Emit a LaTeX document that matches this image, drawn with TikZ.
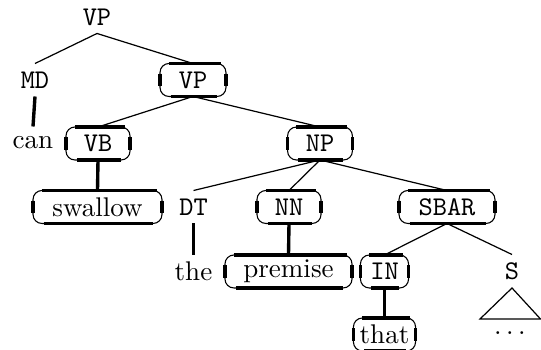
\documentclass[tikz,border=0pt]{standalone}
\begin{document}
\begin{tikzpicture}[x=0.37pt,y=-0.37pt,
  lab/.style={inner sep=0pt,outer sep=0pt,minimum height=12.2pt,font=\ttfamily},
  word/.style={inner sep=0pt,outer sep=0pt,minimum height=12.2pt},
  rbox/.style={draw,line width=0.4pt,rounded corners=3.3pt,inner sep=0pt,outer sep=0pt,minimum height=12.2pt},
  edge/.style={line width=0.45pt},
  leafedge/.style={line width=1.25pt},
  thickseg/.style={line width=1.25pt}]
\useasboundingbox (0,0) rectangle (541,350);
% nodes
\node[lab] (vp) at (97,17) {VP};
\node[lab] (md) at (35,80) {MD};
\node[word] (can) at (33,143) {can};
\node[rbox,lab,minimum width=24.4pt] (vp2) at (193,80) {VP};
\node[rbox,lab,minimum width=23.7pt] (vb) at (98,143.5) {VB};
\node[rbox,lab,minimum width=24pt] (np) at (320,143.5) {NP};
\node[rbox,word,minimum width=47.7pt] (swallow) at (97.5,207) {swallow};
\node[lab] (dt) at (193.5,207) {DT};
\node[rbox,lab,minimum width=23.7pt] (nn) at (289,207) {NN};
\node[rbox,lab,minimum width=35.5pt] (sbar) at (447,207) {SBAR};
\node[word] (the) at (193.5,271) {the};
\node[rbox,word,minimum width=47pt] (premise) at (288.5,271.5) {premise};
\node[rbox,lab,minimum width=17.8pt] (in) at (384.5,271.5) {IN};
\node[lab] (s) at (512,271) {S};
\node[rbox,word,minimum width=23pt] (that) at (384.5,334.5) {that};
\coordinate (tritop) at (512,288);
\coordinate (trileft) at (480,319);
\coordinate (triright) at (540.5,319);
\node[word] (dots) at (510,333) {$\ldots$};
% thick straight segments of rounded boxes
\foreach \n in {vp2,vb,np,swallow,nn,sbar,premise,in,that}{
  \draw[thickseg] ([xshift=3.3pt]\n.north west) -- ([xshift=-2pt]\n.north east);
  \draw[thickseg] ([xshift=4pt]\n.south west) -- ([xshift=-3.5pt]\n.south east);
  \draw[thickseg] ([yshift=2.4pt]\n.west) -- ([yshift=-2.4pt]\n.west);
  \draw[thickseg] ([yshift=2.4pt]\n.east) -- ([yshift=-2.4pt]\n.east);
}
% edges
\draw[edge] (vp.south) -- (md.north);
\draw[edge] (vp.south) -- (vp2.north);
\draw[leafedge] (md.south) -- (can.north);
\draw[edge] (vp2.south) -- (vb.north);
\draw[edge] (vp2.south) -- (np.north);
\draw[leafedge] (vb.south) -- (swallow.north);
\draw[edge] (np.south) -- (dt.north);
\draw[edge] (np.south) -- (nn.north);
\draw[edge] (np.south) -- (sbar.north);
\draw[leafedge] (dt.south) -- (the.north);
\draw[leafedge] (nn.south) -- (premise.north);
\draw[edge] (sbar.south) -- (in.north);
\draw[edge] (sbar.south) -- (s.north);
\draw[leafedge] (in.south) -- (that.north);
\draw[edge] (tritop) -- (trileft) -- (triright) -- cycle;
\end{tikzpicture}
\end{document}
